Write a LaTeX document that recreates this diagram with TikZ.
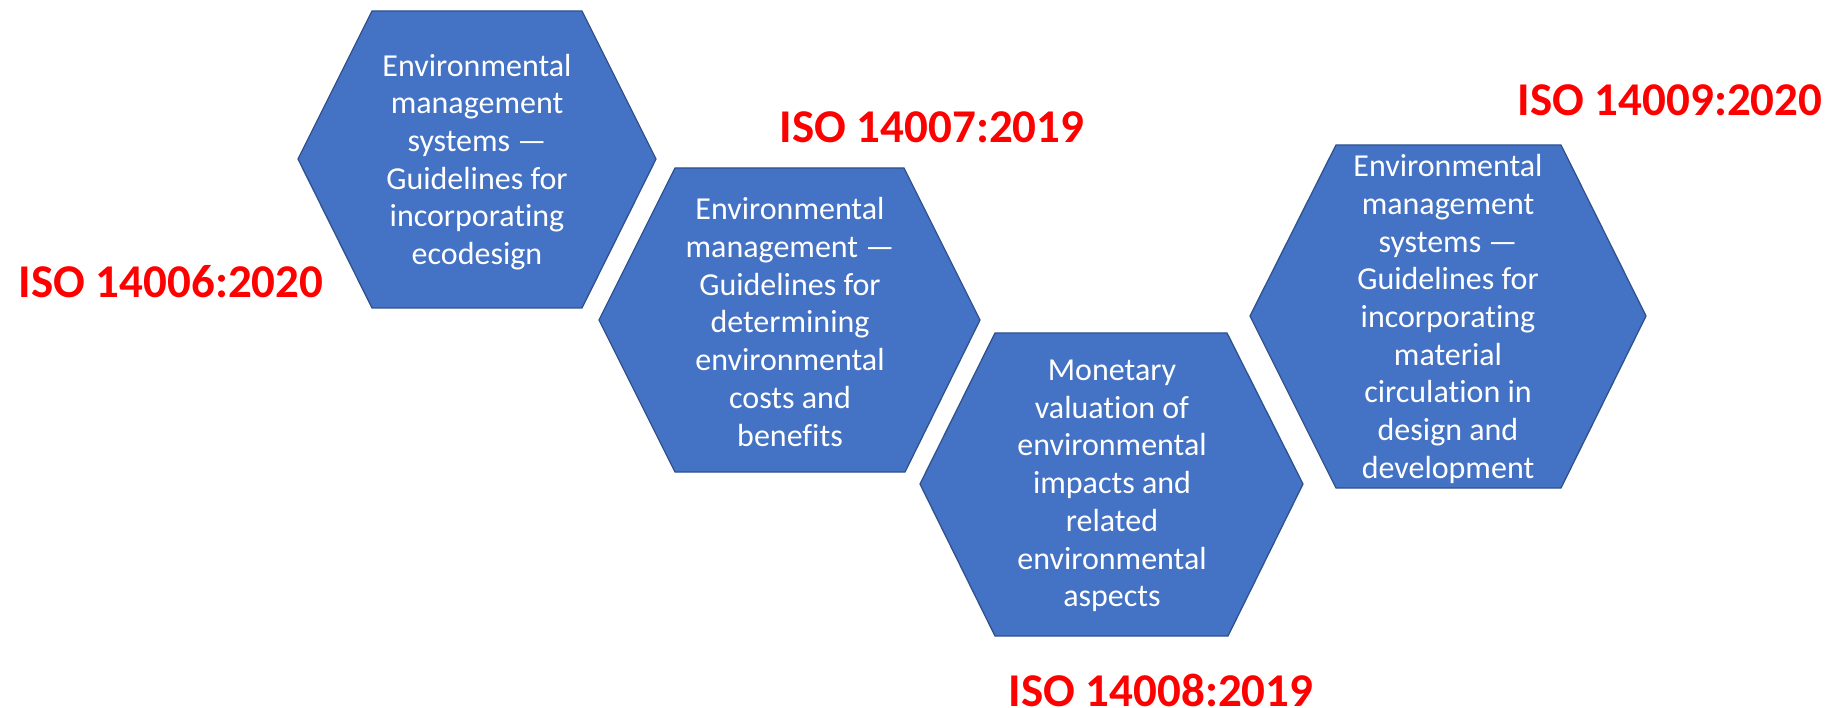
\documentclass[tikz,border=0pt]{standalone}
\usepackage{fontspec}
\setmainfont[Ligatures=NoCommon]{Carlito}
\definecolor{hexfill}{HTML}{4472C4}
\definecolor{hexline}{HTML}{2F528F}
\definecolor{isored}{HTML}{FF0000}
\tikzset{
  hexshape/.style={fill=hexfill, draw=hexline, line width=1.3pt, line join=miter},
  hextext/.style={text=white, align=center, font=\fontsize{32}{37.7}\selectfont, inner sep=0pt},
  isolabel/.style={text=isored, font=\fontsize{47}{50}\selectfont\bfseries, inner sep=0pt, anchor=center}
}
\begin{document}
\begin{tikzpicture}[x=1pt,y=-1pt]
\useasboundingbox (0,0) rectangle (1837,708);
% hexagon 1
\draw[hexshape] (298,159) -- (372,11) -- (582,11) -- (656,159) -- (582,308) -- (372,308) -- cycle;
\node[hextext] (h1) at (477,162) {Environmental\\management\\systems ---\\Guidelines for\\incorporating\\ecodesign};
% hexagon 2
\draw[hexshape] (599,320) -- (675,168) -- (904,168) -- (980,320) -- (905,472) -- (675,472) -- cycle;
\node[hextext] (h2) at (790,322) {Environmental\\management ---\\Guidelines for\\determining\\environmental\\costs and\\benefits};
% hexagon 3
\draw[hexshape] (920,484) -- (995,333) -- (1227,333) -- (1303,484) -- (1228,636) -- (995,636) -- cycle;
\node[hextext] (h3) at (1112,486) {Monetary\\valuation of\\environmental\\impacts and\\related\\environmental\\aspects};
% hexagon 4
\draw[hexshape] (1250,316) -- (1336,145) -- (1561,145) -- (1646,316) -- (1561,488) -- (1336,488) -- cycle;
\node[hextext] (h4) at (1448,319) {Environmental\\management\\systems ---\\Guidelines for\\incorporating\\material\\circulation in\\design and\\development};
% labels
\node[isolabel] (l1) at (171,282) {ISO 14006:2020};
\node[isolabel] (l2) at (932,127) {ISO 14007:2019};
\node[isolabel] (l3) at (1161,690) {ISO 14008:2019};
\node[isolabel] (l4) at (1670,100) {ISO 14009:2020};
\end{tikzpicture}
\end{document}
